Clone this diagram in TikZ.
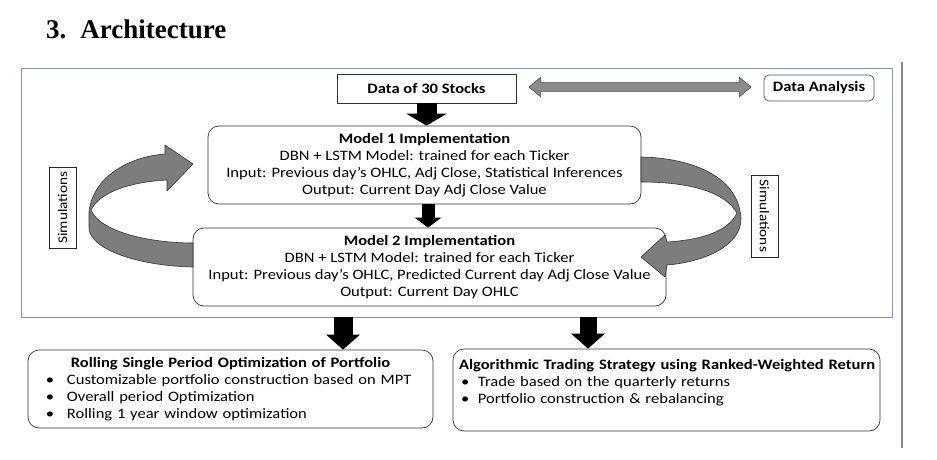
\documentclass[tikz,border=0pt]{standalone}
\usepackage{fontspec}
\setmainfont{Carlito}[FakeStretch=1.15]
\newfontfamily\titlefont{Liberation Serif}
\usetikzlibrary{arrows.meta,shapes.arrows}
\definecolor{framecol}{RGB}{132,151,176}
\definecolor{slatecol}{RGB}{68,84,106}
\definecolor{ribbongray}{RGB}{125,125,125}
\definecolor{linkgray}{RGB}{140,140,140}
\newcommand{\bul}[2]{\hspace*{#1}\makebox[#2][l]{\textbullet}}
\begin{document}
\begin{tikzpicture}[x=1pt,y=-1pt,
	txt/.style={font=\fontsize{14.4}{17}\selectfont},
	plainbox/.style={draw=black!80,line width=0.7pt,txt,inner sep=0pt},
	roundbox/.style={draw=black!80,line width=0.7pt,rounded corners=11pt,txt,inner sep=0pt},
	simbox/.style={draw=black!85,line width=0.7pt,font=\fontsize{13.3}{17}\selectfont,inner sep=0pt,minimum height=27pt},
	blockarrow/.style={line width=#1,-{Triangle[width=2*#1,length=12pt]}},
	ribbon/.style={fill=ribbongray,draw=black!80,line width=0.6pt,line join=round},
	dblarrow/.style={double arrow,draw=black!70,fill=linkgray,line width=0.6pt,inner sep=4pt,
		double arrow head extend=5.5pt,double arrow tip angle=80,minimum height=222pt}]
	\useasboundingbox (0,0) rectangle (937,460);
	% title
	\node[anchor=base west,inner sep=0pt,font=\titlefont\bfseries\fontsize{27}{30}\selectfont] (title) at (46,39) {3.\hspace{14pt}Architecture};
	% frame and side line
	\draw[framecol,line width=0.9pt] (21,68) rectangle (892,317);
	\draw[black!45,line width=1.6pt] (902,62) -- (902,448);
	% boxes
	\node[plainbox,minimum width=179pt,minimum height=29pt] (stocks) at (426.5,88.5) {\bfseries Data of 30 Stocks};
	\node[plainbox,draw=slatecol,rounded corners=5pt,minimum width=110pt,minimum height=26pt] (analysis) at (819,88) {\bfseries Data Analysis};
	\node[dblarrow] (link) at (640,87) {};
	\node[roundbox,align=center,minimum width=433pt,minimum height=78pt] (m1) at (424.5,165) {\textbf{Model 1 Implementation}\\DBN + LSTM Model: trained for each Ticker\\Input: Previous day’s OHLC, Adj Close, Statistical Inferences\\Output: Current Day Adj Close Value};
	\node[roundbox,align=center,minimum width=473pt,minimum height=78pt] (m2) at (429.5,267) {\textbf{Model 2 Implementation}\\DBN + LSTM Model: trained for each Ticker\\Input: Previous day’s OHLC, Predicted Current day Adj Close Value\\Output: Current Day OHLC};
	\node[simbox,rotate=90,minimum width=81pt] (simL) at (62.5,207.5) {Simulations};
	\node[simbox,rotate=-90,minimum width=82pt] (simR) at (764.5,216) {Simulations};
	\node[roundbox,inner xsep=6pt,text width=393pt,minimum height=78pt] (rolling) at (230.5,389) {{\centering\bfseries Rolling Single Period Optimization of Portfolio\par}
		\bul{12pt}{21pt}Customizable portfolio construction based on MPT\par
		\bul{12pt}{21pt}Overall period Optimization\par
		\bul{12pt}{21pt}Rolling 1 year window optimization};
	\node[roundbox,inner xsep=6pt,text width=415pt,minimum height=82pt] (trading) at (666.5,390) {\mbox{\bfseries Algorithmic Trading Strategy using Ranked-Weighted Return}\par
		\bul{2pt}{17pt}Trade based on the quarterly returns\par
		\bul{2pt}{17pt}Portfolio construction \& rebalancing\par\mbox{}};
	% black arrows
	\coordinate (outL) at (343,317);
	\coordinate (outR) at (588,317);
	\draw[blockarrow=20pt] (stocks.south) -- (stocks.south |- m1.north);
	\draw[blockarrow=13pt,-{Triangle[width=26pt,length=10pt]}] ([xshift=3.5pt]m1.south) -- ([xshift=3.5pt]m1.south |- m2.north);
	\draw[blockarrow=19pt,-{Triangle[width=33pt,length=15pt]}] (outL) -- (outL |- rolling.north);
	\draw[blockarrow=17pt,-{Triangle[width=33pt,length=15pt]}] (outR) -- (outR |- trading.north);
	% simulation ribbons
	\draw[ribbon] (193,267) .. controls (140,266) and (90,250) .. (89,228) -- (89,212)
		.. controls (92,180) and (125,157) .. (165,154) -- (165,145) -- (193,164) -- (167,191) -- (167,180)
		.. controls (130,182) and (100,192) .. (91,210) .. controls (100,232) and (150,243) .. (193,243) -- cycle;
	\draw[ribbon] (641,157) .. controls (690,158) and (738,175) .. (741,218)
		.. controls (742,245) and (705,262) .. (667,265) -- (665,277) -- (641,257) -- (665,235) -- (667,242)
		.. controls (700,240) and (728,232) .. (737,213) .. controls (725,192) and (690,182) .. (641,182) -- cycle;
\end{tikzpicture}
\end{document}
